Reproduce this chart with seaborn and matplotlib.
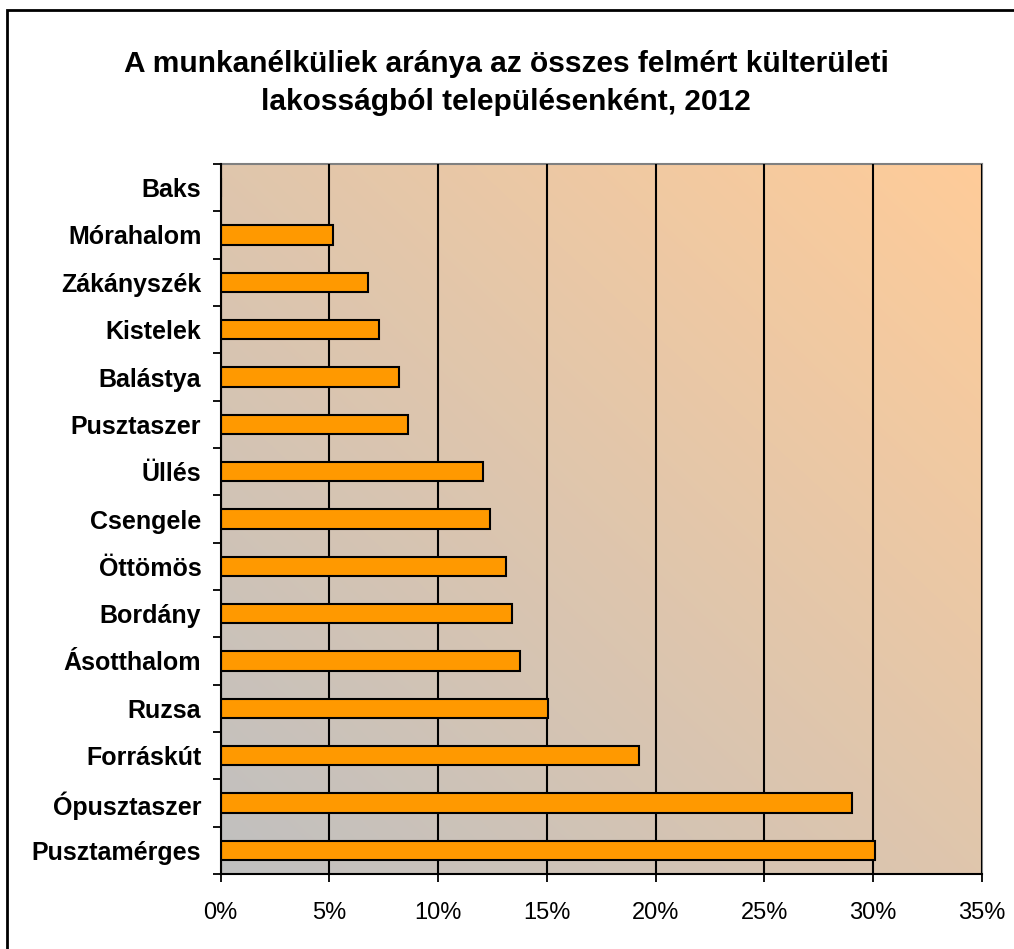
import numpy as np
import pandas as pd
import matplotlib
matplotlib.use("Agg")
import matplotlib.pyplot as plt
import seaborn as sns
from matplotlib.colors import LinearSegmentedColormap
from matplotlib.patches import Rectangle
from matplotlib.ticker import FuncFormatter, FixedLocator

# ---- data ----
settlements = ["Baks", "Mórahalom", "Zákányszék", "Kistelek", "Balástya",
               "Pusztaszer", "Üllés", "Csengele", "Öttömös", "Bordány",
               "Ásotthalom", "Ruzsa", "Forráskút", "Ópusztaszer", "Pusztamérges"]
unemployed_share = [0.0, 5.18, 6.78, 7.3, 8.19,
                    8.63, 12.08, 12.36, 13.12, 13.39,
                    13.74, 15.07, 19.24, 29.03, 30.1]
x_ticks = [0, 5, 10, 15, 20, 25, 30, 35]
title_text = "A munkanélküliek aránya az összes felmért külterületi\nlakosságból településenként, 2012"

df = pd.DataFrame({"telepules": settlements, "arany": unemployed_share})

sns.set_theme(style="white")
plt.rcParams["font.family"] = ["Liberation Sans", "DejaVu Sans"]

W, H = 1014, 949
fig = plt.figure(figsize=(W / 100, H / 100), dpi=100)
ax = fig.add_axes([220.7 / W, 1 - 874 / H, (982 - 220.7) / W, (874 - 164) / H])

# gradient background (gray bottom-left -> peach top-right)
cmap = LinearSegmentedColormap.from_list("bg", ["#C0C0C0", "#FFCC99"])
n = 256
u, v = np.meshgrid(np.linspace(0, 1, n), np.linspace(0, 1, n))
grad = (u + v) / 2
ax.imshow(grad, cmap=cmap, extent=[0, 1, 0, 1], transform=ax.transAxes,
          origin="lower", aspect="auto", zorder=0, interpolation="bicubic")

sns.barplot(data=df, x="arany", y="telepules", orient="h", ax=ax,
            color="#FF9900", saturation=1, width=0.41,
            edgecolor="black", linewidth=1.5, zorder=3)

ax.set_xlim(0, 35)
ax.set_ylim(len(settlements) - 0.5, -0.5)
ax.set_xlabel("")
ax.set_ylabel("")

# grid
ax.xaxis.set_major_locator(FixedLocator(x_ticks))
ax.xaxis.set_major_formatter(FuncFormatter(lambda val, pos: f"{int(val)}%"))
ax.grid(axis="x", color="black", linewidth=1.5, zorder=1)
ax.grid(axis="y", visible=False)
ax.set_axisbelow(False)
for line in ax.get_xgridlines():
    line.set_zorder(1)

# spines
for s in ["left", "bottom"]:
    ax.spines[s].set_color("black")
    ax.spines[s].set_linewidth(1.5)
    ax.spines[s].set_zorder(5)
for s in ["top", "right"]:
    ax.spines[s].set_color("#808080")
    ax.spines[s].set_linewidth(1.5)

# ticks
ax.tick_params(axis="x", which="major", direction="out", length=6, width=1.3,
               color="black", bottom=True, pad=14, labelsize=17, labelcolor="black")
ax.set_yticks(range(len(settlements)))
ax.set_yticklabels(settlements, fontsize=18, fontweight="bold", color="black")
ax.set_yticks(np.arange(-0.5, len(settlements), 1.0), minor=True)
ax.tick_params(axis="y", which="major", length=0, pad=14)
ax.tick_params(axis="y", which="minor", direction="out", length=6, width=1.3,
               color="black", left=True)

fig.text(506 / W, 1 - 83 / H, title_text, ha="center", va="center",
         fontsize=21.5, fontweight="bold", linespacing=1.5, color="black")

# outer chart frame
fig.patches.append(Rectangle((7 / W, -0.05), 1.2, 1 - 10 / H + 0.05,
                             transform=fig.transFigure, fill=False,
                             edgecolor="black", linewidth=2, zorder=10))

fig.savefig("out.png", dpi=100, facecolor="white")
